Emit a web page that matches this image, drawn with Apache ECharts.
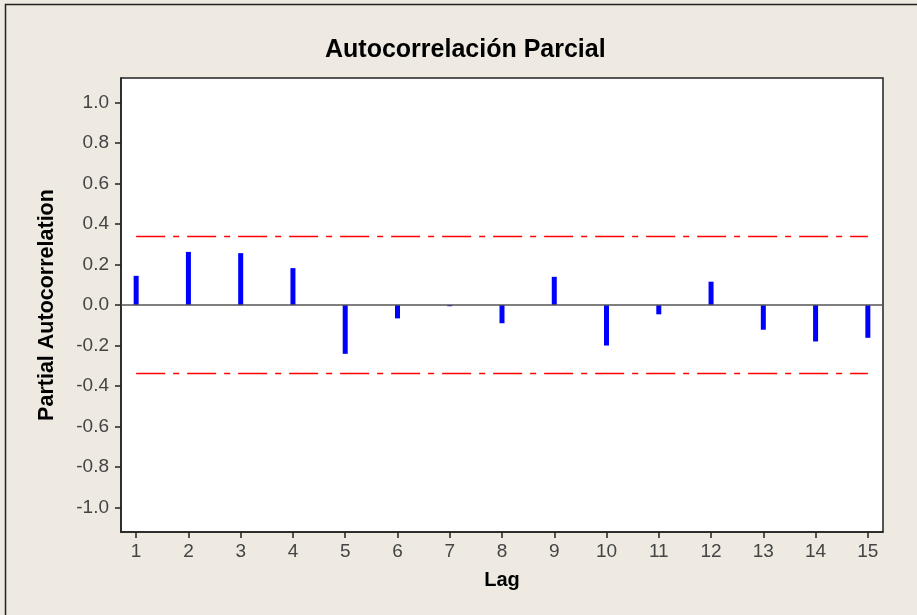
<!DOCTYPE html>
<html>
<head>
<meta charset="utf-8">
<script src="https://cdn.jsdelivr.net/npm/echarts@6/dist/echarts.min.js"></script>
<style>
html,body{margin:0;padding:0;background:#EEEAE1;}
#chart{width:917px;height:615px;}
</style>
</head>
<body>
<div id="chart"></div>
<script>
var titleText = "Autocorrelación Parcial";
var xName = "Lag";
var yName = "Partial Autocorrelation";
var lags = [1,2,3,4,5,6,7,8,9,10,11,12,13,14,15];
var pacf = [0.144,0.262,0.256,0.182,-0.241,-0.066,-0.006,-0.090,0.139,-0.200,-0.046,0.115,-0.122,-0.180,-0.162];
var limit = 0.338;
var yTicks = [-1.0,-0.8,-0.6,-0.4,-0.2,0.0,0.2,0.4,0.6,0.8,1.0];

var chart = echarts.init(document.getElementById('chart'), null, {renderer:'canvas'});
var labelFont = {fontFamily:'Liberation Sans', fontSize:19, color:'#444'};
var option = {
  backgroundColor:'#EEEAE1',
  animation:false,
  graphic:[{
    type:'rect', z:-10, silent:true,
    shape:{x:5.5,y:4.5,width:1200,height:1200},
    style:{fill:'#EEEAE1', stroke:'#222', lineWidth:1.5}
  }],
  title:{
    text:titleText, left:320, top:33,
    textStyle:{fontFamily:'Liberation Sans', fontWeight:'bold', fontSize:25, color:'#000'}
  },
  grid:{left:121, right:34, top:78, bottom:83, show:true, backgroundColor:'#fff', borderColor:'#222', borderWidth:1.5},
  xAxis:{
    type:'value', min:0.71, max:15.29,
    name:xName, nameLocation:'middle', nameGap:38,
    nameTextStyle:{fontFamily:'Liberation Sans', fontWeight:'bold', fontSize:20, color:'#000'},
    axisLine:{show:true, onZero:false, lineStyle:{color:'#222', width:1.5}},
    axisTick:{show:true, customValues:lags, length:6, lineStyle:{color:'#222', width:1.5}},
    axisLabel:Object.assign({customValues:lags, margin:10, formatter:function(v){return String(v);}}, labelFont),
    splitLine:{show:false}
  },
  yAxis:{
    type:'value', min:-1.12, max:1.12,
    name:yName, nameLocation:'middle', nameGap:63, nameRotate:90,
    nameTextStyle:{fontFamily:'Liberation Sans', fontWeight:'bold', fontSize:21.5, color:'#000'},
    axisLine:{show:true, onZero:false, lineStyle:{color:'#222', width:1.5}},
    axisTick:{show:true, customValues:yTicks, length:6, lineStyle:{color:'#222', width:1.5}},
    axisLabel:Object.assign({customValues:yTicks, margin:12, formatter:function(v){return Number(v).toFixed(1);}}, labelFont),
    splitLine:{show:false}
  },
  series:[
    {
      type:'bar', barWidth:5,
      data:lags.map(function(l,i){return [l,pacf[i]];}),
      itemStyle:{color:'#0000FF'},
      markLine:{
        silent:true, symbol:'none', label:{show:false},
        lineStyle:{color:'#555', width:1.5, type:'solid'},
        data:[{yAxis:0}]
      },
      z:3
    },
    {
      type:'line', symbol:'none', silent:true,
      data:[[lags[0],limit],[lags[lags.length-1],limit]],
      lineStyle:{color:'#FF0000', width:1.5, type:[29,8,6,8]}, z:2
    },
    {
      type:'line', symbol:'none', silent:true,
      data:[[lags[0],-limit],[lags[lags.length-1],-limit]],
      lineStyle:{color:'#FF0000', width:1.5, type:[29,8,6,8]}, z:2
    }
  ]
};
chart.setOption(option);
</script>
</body>
</html>
